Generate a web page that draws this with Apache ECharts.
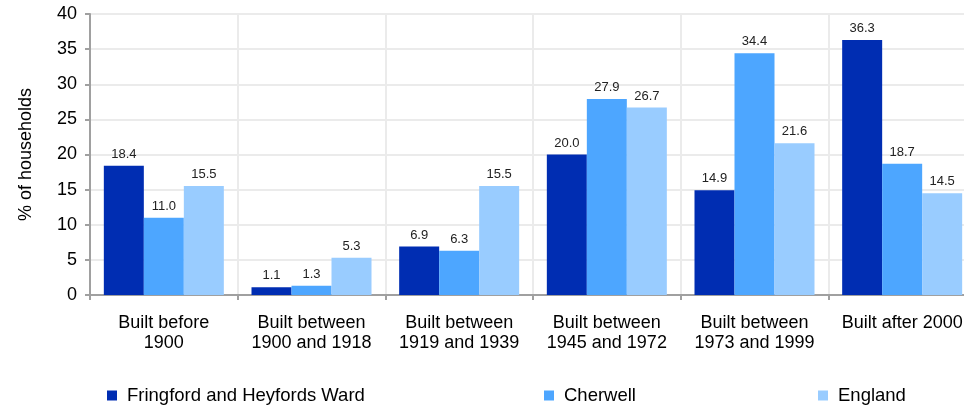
<!DOCTYPE html>
<html>
<head>
<meta charset="utf-8">
<script src="https://cdn.jsdelivr.net/npm/echarts@6/dist/echarts.min.js"></script>
<style>html,body{margin:0;padding:0;background:#fff;overflow:hidden}#c{width:976px;height:407px}</style>
</head>
<body>
<div id="c"></div>
<script>
const categories = ["Built before\n1900", "Built between\n1900 and 1918", "Built between\n1919 and 1939", "Built between\n1945 and 1972", "Built between\n1973 and 1999", "Built after 2000"];
const seriesNames = ["Fringford and Heyfords Ward", "Cherwell", "England"];
const fringford = [18.4, 1.1, 6.9, 20.0, 14.9, 36.3];
const cherwell = [11.0, 1.3, 6.3, 27.9, 34.4, 18.7];
const england = [15.5, 5.3, 15.5, 26.7, 21.6, 14.5];
const colors = ["#002db2", "#4da6ff", "#99ccff"];
const font = "'Liberation Sans', Arial, sans-serif";

const chart = echarts.init(document.getElementById('c'));
const mkSeries = (name, data, color) => ({
  name, type: 'bar', data, barWidth: 40, barGap: '0%',
  itemStyle: { color },
  label: { show: true, position: 'top', distance: 5, fontSize: 13, color: '#222', fontFamily: font,
           formatter: p => p.value.toFixed(1) }
});
const mkLegend = (name, left) => ({
  data: [name], left, top: 386, padding: 0, itemWidth: 10, itemHeight: 10, itemGap: 0,
  icon: 'rect', textStyle: { fontSize: 18.5, color: '#000', fontFamily: font, padding: [0, 0, 0, 5] }
});
chart.setOption({
  animation: false,
  grid: { left: 90, top: 14, right: 0, bottom: 112 },
  legend: [mkLegend(seriesNames[0], 107), mkLegend(seriesNames[1], 544), mkLegend(seriesNames[2], 818)],
  xAxis: {
    type: 'category', data: categories,
    axisLine: { lineStyle: { color: '#a0a0a0', width: 2 } },
    axisTick: { show: true, length: 5, lineStyle: { color: '#a0a0a0', width: 2 } },
    splitLine: { show: true, lineStyle: { color: '#ebebeb', width: 2 } },
    axisLabel: { fontSize: 18, color: '#000', fontFamily: font, lineHeight: 20, margin: 18, interval: 0 }
  },
  yAxis: {
    type: 'value', min: 0, max: 40, interval: 5,
    name: '% of households', nameLocation: 'middle', nameGap: 55,
    nameTextStyle: { fontSize: 18, color: '#000', fontFamily: font },
    axisLine: { show: true, lineStyle: { color: '#a0a0a0', width: 2 } },
    axisTick: { show: true, length: 5, lineStyle: { color: '#a0a0a0', width: 2 } },
    splitLine: { lineStyle: { color: '#ebebeb', width: 2 } },
    axisLabel: { fontSize: 18, color: '#000', fontFamily: font, margin: 13 }
  },
  series: [mkSeries(seriesNames[0], fringford, colors[0]), mkSeries(seriesNames[1], cherwell, colors[1]), mkSeries(seriesNames[2], england, colors[2])]
});
</script>
</body>
</html>
